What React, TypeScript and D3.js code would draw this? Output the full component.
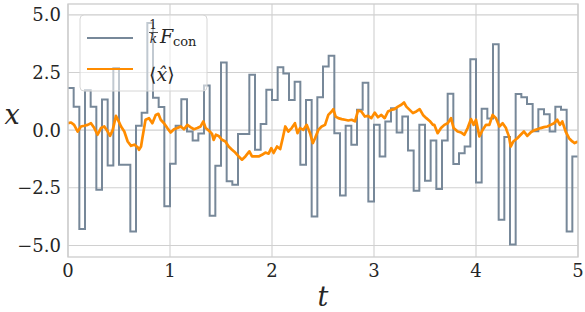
import * as d3 from 'd3';

// control force 1/k F_con, one constant value per interval of 1/18
const forceVals = [
  1.83, 1.02, -4.29, 1.73, 1.02, -2.58, 1.33, -1.53, 2.7, -1.5,
  -1.5, -4.39, 0.19, 0.75, 4.65, 1.4, 1.0, -3.3, -1.46, 0.19,
  1.34, -0.06, -0.45, -0.15, 1.94, -3.71, -1.54, 2.93, -2.22, -2.37,
  -0.17, -0.17, 2.4, -0.85, 0.27, 1.75, 1.31, 2.73, 2.46, 1.31,
  2.1, -1.5, 1.31, -3.74, 1.43, 2.76, 3.23, -0.13, -2.83, 0.19,
  -0.63, 0.88, 2.06, -3.09, 0.23, -1.14, 0.38, 0.95, -0.1, 0.59,
  -0.88, -2.63, 0.23, -2.19, -0.45, -2.55, -0.45, 1.58, -1.47, -1.0,
  -0.71, 3.07, -2.27, 0.93, 0.5, 3.73, -3.88, -0.3, -4.96, 1.57,
  1.43, 1.13, -0.05, 0.91, 0.69, -0.06, 1.02, 0.88, -4.39, -1.14,
];
const stepCount = 90;
const tMax = 5;

// mean position <x> over time
const meanT = [
  0, 0.03, 0.06, 0.095, 0.127, 0.16, 0.193, 0.225, 0.258, 0.29,
  0.323, 0.356, 0.389, 0.412, 0.438, 0.47, 0.497, 0.52, 0.552, 0.585,
  0.618, 0.65, 0.683, 0.696, 0.716, 0.729, 0.76, 0.794, 0.827, 0.86,
  0.886, 0.909, 0.941, 0.974, 1.006, 1.039, 1.072, 1.105, 1.137, 1.17,
  1.2, 1.235, 1.268, 1.3, 1.327, 1.35, 1.39, 1.412, 1.428, 1.45,
  1.477, 1.51, 1.543, 1.575, 1.608, 1.64, 1.673, 1.706, 1.739, 1.778,
  1.804, 1.837, 1.869, 1.902, 1.935, 1.967, 1.993, 2.016, 2.049, 2.08,
  2.105, 2.13, 2.16, 2.193, 2.225, 2.25, 2.275, 2.307, 2.34, 2.373,
  2.4, 2.422, 2.454, 2.487, 2.52, 2.552, 2.585, 2.601, 2.624, 2.65,
  2.683, 2.716, 2.748, 2.781, 2.814, 2.843, 2.876, 2.91, 2.941, 2.974,
  3.007, 3.039, 3.072, 3.105, 3.137, 3.17, 3.2, 3.235, 3.268, 3.294,
  3.317, 3.35, 3.382, 3.415, 3.448, 3.48, 3.513, 3.546, 3.578, 3.591,
  3.624, 3.657, 3.69, 3.722, 3.755, 3.781, 3.82, 3.853, 3.886, 3.918,
  3.951, 3.977, 4.0, 4.033, 4.065, 4.098, 4.131, 4.163, 4.196, 4.229,
  4.261, 4.294, 4.301, 4.323, 4.34, 4.366, 4.405, 4.438, 4.47, 4.503,
  4.536, 4.568, 4.601, 4.634, 4.666, 4.699, 4.732, 4.765, 4.797, 4.823,
  4.846, 4.879, 4.912, 4.944, 4.967, 5.0,
];
const meanX = [
  0.3, 0.33, 0.23, -0.06, 0.16, 0.19, 0.23, 0.3, 0.09, -0.2,
  0.09, 0.16, -0.06, -0.25, 0.0, 0.62, 0.38, 0.16, -0.06, -0.49,
  -0.68, -0.63, -0.74, -0.85, -0.71, -0.35, 0.45, 0.52, 0.3, 0.66,
  0.71, 0.45, 0.3, 0.09, -0.1, 0.04, 0.09, 0.16, 0.04, 0.23,
  0.13, 0.04, 0.09, 0.16, 0.38, 0.09, -0.06, -0.16, -0.42, -0.2,
  -0.25, -0.42, -0.49, -0.71, -0.85, -0.97, -1.14, -1.28, -1.14, -0.92,
  -1.14, -1.14, -1.14, -1.07, -0.97, -1.02, -0.78, -0.99, -0.71, -0.82,
  -0.35, 0.16, -0.06, 0.09, 0.3, -0.13, 0.09, 0.01, 0.23, -0.13,
  -0.56, -0.35, 0.01, 0.16, 0.23, 0.66, 0.81, 0.91, 0.59, 0.52,
  0.48, 0.45, 0.42, 0.45, 0.38, 0.85, 0.81, 0.59, 0.62, 0.52,
  0.76, 0.56, 0.66, 0.52, 0.81, 0.88, 0.91, 1.02, 1.1, 1.2,
  1.02, 0.88, 0.74, 0.81, 0.91, 0.66, 0.52, 0.4, 0.23, 0.23,
  -0.13, 0.09, 0.23, 0.3, 0.52, 0.09, -0.06, -0.1, -0.2, 0.09,
  0.48, 0.23, 0.45, -0.27, 0.01, 0.23, 0.23, 0.66, 0.52, 0.16,
  0.3, 0.09, -0.01, -0.27, -0.71, -0.49, -0.35, -0.2, -0.06, -0.25,
  -0.1, -0.01, 0.04, 0.09, 0.13, 0.16, 0.23, 0.3, 0.45, 0.23,
  0.38, -0.06, -0.35, -0.49, -0.56, -0.49,
];

const xTicks = [0, 1, 2, 3, 4, 5];
const yTicks = [5, 2.5, 0, -2.5, -5];

const W = 585;
const H = 312;
const margin = { left: 68, right: 7, top: 4, bottom: 55 };
const serif = '"DejaVu Serif", serif';
const gridColor = '#d0d0d0';
const forceColor = '#778899';
const meanColor = '#ff8c00';

export default function App() {
  const x = d3.scaleLinear().domain([0, tMax]).range([margin.left, W - margin.right]);
  const y = d3.scaleLinear().domain([-5.5, 5.47]).range([H - margin.bottom, margin.top]);

  // step points, last value held to the end of the time axis
  const stepPts: [number, number][] = forceVals.map((v, k) => [(k * tMax) / stepCount, v]);
  stepPts.push([tMax, forceVals[forceVals.length - 1]]);
  const stepLine = d3.line<[number, number]>()
    .x(d => x(d[0]))
    .y(d => y(d[1]))
    .curve(d3.curveStepAfter);

  const meanLine = d3.line<number>()
    .x((_, i) => x(meanT[i]))
    .y(d => y(d));

  const fmt = (v: number) => (v < 0 ? '\u2212' : '') + Math.abs(v).toFixed(1);

  const [x0, x1] = x.range();
  const [y0, y1] = y.range();

  return (
    <div style={{ position: 'absolute', left: 0, top: 0, width: W, height: H, background: '#fff' }}>
      <svg width={W} height={H} style={{ display: 'block' }}>
        <defs>
          <clipPath id="plot-clip">
            <rect x={x0} y={y1} width={x1 - x0} height={y0 - y1} />
          </clipPath>
        </defs>
        {/* grid */}
        {xTicks.map(t => (
          <line key={'gx' + t} x1={x(t)} x2={x(t)} y1={y1} y2={y0} stroke={gridColor} strokeWidth={1.1} />
        ))}
        {yTicks.map(t => (
          <line key={'gy' + t} x1={x0} x2={x1} y1={y(t)} y2={y(t)} stroke={gridColor} strokeWidth={1.1} />
        ))}

        <g clipPath="url(#plot-clip)">
          <path d={stepLine(stepPts) || ''} fill="none" stroke={forceColor} strokeWidth={2} strokeLinejoin="miter" />
          <path d={meanLine(meanX) || ''} fill="none" stroke={meanColor} strokeWidth={2.7} strokeLinejoin="round" />
        </g>

        {/* frame */}
        <rect x={x0} y={y1} width={x1 - x0} height={y0 - y1} fill="none" stroke="#cccccc" strokeWidth={1.3} />

        {/* tick labels */}
        {xTicks.map(t => (
          <text key={'tx' + t} x={x(t)} y={277} textAnchor="middle" fontFamily={serif} fontSize={18} fill="#262626">
            {t}
          </text>
        ))}
        {yTicks.map(t => (
          <text key={'ty' + t} x={61} y={y(t) + 6.5} textAnchor="end" fontFamily={serif} fontSize={18} fill="#262626">
            {fmt(t)}
          </text>
        ))}

        {/* axis labels */}
        <text x={12} y={124} textAnchor="middle" fontFamily={serif} fontStyle="italic" fontSize={27} fill="#262626">x</text>
        <text x={323} y={306} textAnchor="middle" fontFamily={serif} fontStyle="italic" fontSize={27} fill="#262626">t</text>

        {/* legend */}
        <g>
          <rect x={80} y={15} width={127} height={76} rx={4} fill="#ffffff" fillOpacity={0.55} stroke="#d6d6d6" strokeWidth={1} />
          <line x1={87} x2={133} y1={38} y2={38} stroke={forceColor} strokeWidth={2} />
          <text x={153} y={29} textAnchor="middle" fontFamily={serif} fontSize={12} fill="#262626">1</text>
          <line x1={149} x2={158} y1={32.5} y2={32.5} stroke="#262626" strokeWidth={0.8} />
          <text x={153.5} y={43} textAnchor="middle" fontFamily={serif} fontStyle="italic" fontSize={12} fill="#262626">k</text>
          <text x={160} y={43} fontFamily={serif} fontStyle="italic" fontSize={19} fill="#262626">F</text>
          <text x={173} y={46} fontFamily={serif} fontSize={13} fill="#262626">con</text>

          <line x1={87} x2={133} y1={69} y2={69} stroke={meanColor} strokeWidth={2} />
          <text x={149} y={81} fontFamily={serif} fontSize={19} fill="#262626">
            {'\u27E8'}
            <tspan fontStyle="italic">{'x\u0302'}</tspan>
            {'\u27E9'}
          </text>
        </g>
      </svg>
    </div>
  );
}
